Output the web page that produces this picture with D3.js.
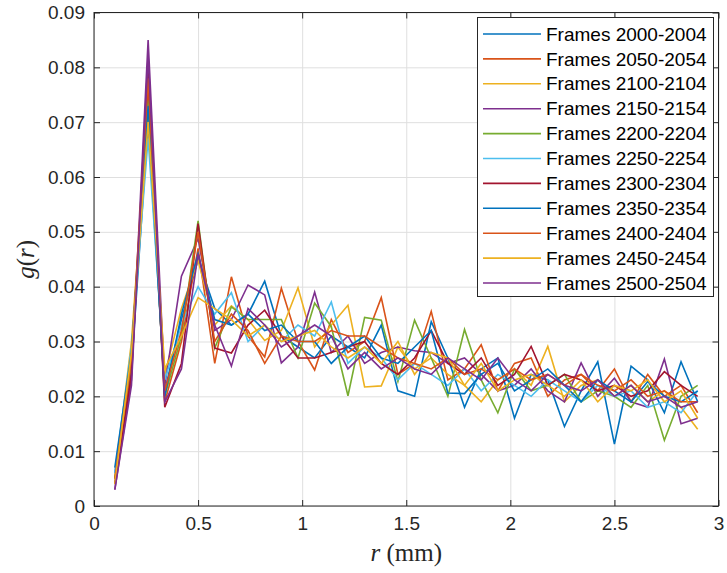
<!DOCTYPE html>
<html><head><meta charset="utf-8">
<script src="https://cdn.jsdelivr.net/npm/d3@7"></script>
<style>body{margin:0;background:#fff}</style>
</head><body><svg id="c" width="727" height="573"></svg>
<script>
const rValues = [0.10,0.18,0.26,0.34,0.42,0.50,0.58,0.66,0.74,0.82,0.90,0.98,1.06,1.14,1.22,1.30,1.38,1.46,1.54,1.62,1.70,1.78,1.86,1.94,2.02,2.10,2.18,2.26,2.34,2.42,2.50,2.58,2.66,2.74,2.82,2.90];

const frames2000 = [0.006,0.025,0.070,0.021,0.034,0.045,0.036,0.033,0.035,0.041,0.031,0.029,0.027,0.031,0.029,0.027,0.033,0.021,0.020,0.0336,0.027,0.018,0.025,0.027,0.016,0.024,0.023,0.0145,0.021,0.0263,0.0113,0.0255,0.023,0.017,0.0263,0.019];
const frames2050 = [0.004,0.026,0.076,0.019,0.030,0.047,0.026,0.0418,0.031,0.0272,0.0397,0.030,0.0248,0.034,0.028,0.030,0.038,0.024,0.026,0.0355,0.023,0.025,0.0294,0.021,0.026,0.027,0.020,0.023,0.024,0.021,0.025,0.019,0.024,0.020,0.022,0.017];
const frames2100 = [0.005,0.030,0.072,0.024,0.036,0.0448,0.033,0.0365,0.034,0.0302,0.032,0.0398,0.029,0.033,0.0366,0.0217,0.0219,0.029,0.025,0.027,0.024,0.022,0.019,0.023,0.025,0.022,0.0291,0.019,0.022,0.023,0.020,0.022,0.019,0.021,0.018,0.014];
const frames2150 = [0.003,0.023,0.085,0.022,0.0419,0.0488,0.032,0.034,0.0403,0.0385,0.0261,0.029,0.039,0.028,0.031,0.026,0.028,0.029,0.0283,0.028,0.026,0.027,0.024,0.021,0.022,0.025,0.021,0.019,0.0261,0.020,0.0233,0.019,0.018,0.0268,0.015,0.016];
const frames2200 = [0.005,0.027,0.074,0.020,0.031,0.052,0.0288,0.0363,0.034,0.034,0.034,0.027,0.037,0.0327,0.0201,0.0344,0.0339,0.0227,0.0339,0.027,0.020,0.0322,0.023,0.017,0.025,0.021,0.022,0.024,0.019,0.021,0.020,0.018,0.022,0.012,0.020,0.022];
const frames2250 = [0.006,0.029,0.067,0.023,0.033,0.040,0.035,0.0389,0.030,0.033,0.030,0.033,0.031,0.0372,0.026,0.029,0.027,0.023,0.026,0.024,0.022,0.025,0.021,0.024,0.022,0.020,0.023,0.021,0.019,0.022,0.020,0.021,0.018,0.019,0.017,0.021];
const frames2300 = [0.004,0.024,0.079,0.018,0.026,0.0515,0.0288,0.0279,0.033,0.0357,0.031,0.027,0.027,0.028,0.029,0.030,0.026,0.024,0.027,0.032,0.026,0.024,0.027,0.022,0.024,0.0291,0.022,0.024,0.023,0.021,0.022,0.020,0.021,0.0245,0.022,0.020];
const frames2350 = [0.007,0.028,0.073,0.020,0.035,0.046,0.034,0.033,0.035,0.032,0.033,0.030,0.030,0.026,0.029,0.031,0.027,0.026,0.029,0.032,0.0206,0.0205,0.024,0.026,0.021,0.023,0.025,0.022,0.019,0.023,0.021,0.019,0.0227,0.020,0.019,0.021];
const frames2400 = [0.005,0.027,0.078,0.021,0.032,0.050,0.030,0.035,0.032,0.026,0.031,0.030,0.030,0.032,0.031,0.031,0.029,0.027,0.026,0.025,0.027,0.024,0.025,0.023,0.025,0.023,0.024,0.022,0.024,0.022,0.021,0.023,0.020,0.021,0.019,0.019];
const frames2450 = [0.004,0.028,0.070,0.025,0.031,0.038,0.036,0.034,0.031,0.033,0.030,0.031,0.032,0.029,0.027,0.029,0.026,0.030,0.024,0.028,0.027,0.022,0.026,0.021,0.023,0.024,0.022,0.020,0.023,0.019,0.022,0.021,0.023,0.019,0.021,0.016];
const frames2500 = [0.003,0.022,0.082,0.019,0.025,0.046,0.033,0.0255,0.036,0.033,0.029,0.031,0.033,0.031,0.025,0.028,0.025,0.027,0.025,0.024,0.027,0.025,0.023,0.027,0.023,0.021,0.024,0.022,0.021,0.023,0.020,0.022,0.019,0.020,0.018,0.019];

const seriesLabels = ["Frames 2000-2004","Frames 2050-2054","Frames 2100-2104","Frames 2150-2154","Frames 2200-2204","Frames 2250-2254","Frames 2300-2304","Frames 2350-2354","Frames 2400-2404","Frames 2450-2454","Frames 2500-2504"];
const seriesColors = ["#0072BD","#D95319","#EDB120","#7E2F8E","#77AC30","#4DBEEE","#A2142F","#0072BD","#D95319","#EDB120","#7E2F8E"];
const xTicks = [0,0.5,1,1.5,2,2.5,3];
const yTicks = [0,0.01,0.02,0.03,0.04,0.05,0.06,0.07,0.08,0.09];

const seriesValues = [frames2000,frames2050,frames2100,frames2150,frames2200,frames2250,frames2300,frames2350,frames2400,frames2450,frames2500];

const L = 94, R = 718.5, T = 12.5, B = 506;
const svg = d3.select("#c");
const x = d3.scaleLinear().domain([0,3]).range([L,R]);
const y = d3.scaleLinear().domain([0,0.09]).range([B,T]);
const axisColor = "#262626";
const tickFont = "Liberation Sans, Arial, Helvetica, sans-serif";

// grid
const gx = svg.append("g").attr("transform",`translate(0,${B})`)
  .call(d3.axisBottom(x).tickValues(xTicks).tickSize(-(B-T)).tickFormat(""));
const gy = svg.append("g").attr("transform",`translate(${L},0)`)
  .call(d3.axisLeft(y).tickValues(yTicks).tickSize(-(R-L)).tickFormat(""));
[gx,gy].forEach(g=>{g.select(".domain").remove(); g.selectAll("line").attr("stroke","#dfdfdf").attr("stroke-width",1);});

// lines
const line = d3.line().x((d,i)=>x(rValues[i])).y(d=>y(d));
const plot = svg.append("g");
seriesValues.forEach((vals,k)=>{
  plot.append("path").datum(vals).attr("d",line)
    .attr("fill","none").attr("stroke",seriesColors[k]).attr("stroke-width",1.6)
    .attr("stroke-linejoin","miter");
});

// axes with inward ticks
const tl = 6;
const ax = svg.append("g").attr("transform",`translate(0,${B})`)
  .call(d3.axisBottom(x).tickValues(xTicks).tickSizeInner(-tl).tickSizeOuter(0).tickPadding(11).tickFormat(d=>String(d)));
const ay = svg.append("g").attr("transform",`translate(${L},0)`)
  .call(d3.axisLeft(y).tickValues(yTicks).tickSizeInner(-tl).tickSizeOuter(0).tickPadding(9).tickFormat(d=>d===0?"0":d.toFixed(2)));
const at = svg.append("g").attr("transform",`translate(0,${T})`)
  .call(d3.axisTop(x).tickValues(xTicks).tickSizeInner(-tl).tickSizeOuter(0).tickFormat(""));
const ar = svg.append("g").attr("transform",`translate(${R},0)`)
  .call(d3.axisRight(y).tickValues(yTicks).tickSizeInner(-tl).tickSizeOuter(0).tickFormat(""));
[ax,ay,at,ar].forEach(g=>{
  g.select(".domain").remove();
  g.selectAll("line").attr("stroke",axisColor).attr("stroke-width",1);
  g.selectAll("text").attr("fill",axisColor).attr("font-family",tickFont).attr("font-size",19);
});
svg.append("rect").attr("x",L).attr("y",T).attr("width",R-L).attr("height",B-T)
  .attr("fill","none").attr("stroke",axisColor).attr("stroke-width",1);

// axis labels
const serif = "Liberation Serif, Times New Roman, serif";
const xl = svg.append("text").attr("x",(L+R)/2).attr("y",561).attr("text-anchor","middle")
  .attr("font-family",serif).attr("font-size",25).attr("fill",axisColor);
xl.append("tspan").attr("font-style","italic").text("r");
xl.append("tspan").text(" (mm)");
const yl = svg.append("text").attr("transform",`translate(34,${(T+B)/2}) rotate(-90)`).attr("text-anchor","middle")
  .attr("font-family",serif).attr("font-size",25).attr("fill",axisColor);
yl.append("tspan").attr("font-style","italic").text("g");
yl.append("tspan").text("(");
yl.append("tspan").attr("font-style","italic").text("r");
yl.append("tspan").text(")");

// legend
const lg = svg.append("g");
lg.append("rect").attr("x",477.5).attr("y",17.5).attr("width",236).attr("height",279)
  .attr("fill","#fff").attr("stroke",axisColor).attr("stroke-width",1);
seriesLabels.forEach((lab,i)=>{
  const cy = 34 + i*24.9;
  lg.append("line").attr("x1",483).attr("x2",541).attr("y1",cy).attr("y2",cy)
    .attr("stroke",seriesColors[i]).attr("stroke-width",1.6);
  lg.append("text").attr("x",546).attr("y",cy).attr("dy","0.35em")
    .attr("font-family",tickFont).attr("font-size",19).attr("fill","#000").text(lab);
});
</script></body></html>
